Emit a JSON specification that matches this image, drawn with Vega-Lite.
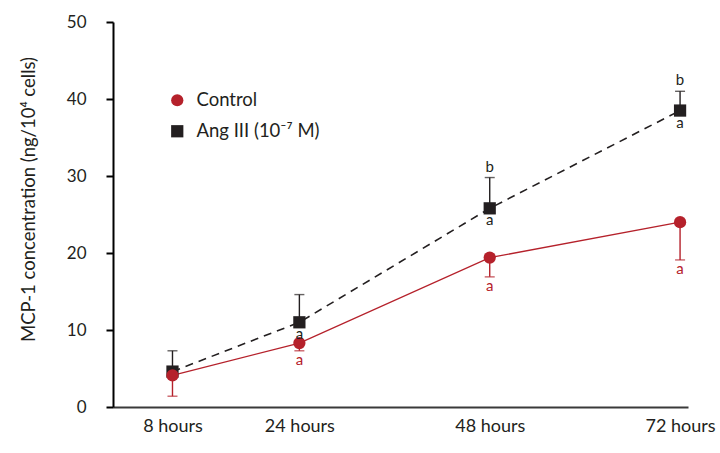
{
  "$schema": "https://vega.github.io/schema/vega-lite/v6.json",
  "width": 575,
  "height": 385,
  "autosize": {"type": "none"},
  "padding": {"left": 113, "top": 22, "right": 32, "bottom": 46},
  "background": "white",
  "config": {
    "font": "Lato",
    "view": {"stroke": null},
    "axis": {"grid": false, "labelFont": "Lato", "titleFont": "Lato", "labelColor": "#231f20", "titleColor": "#231f20"}
  },
  "data": {
    "values": [
      {"hours": 8, "series": "Control", "value": 4.1, "err": 1.4, "err_letter": "", "pt_letter": ""},
      {"hours": 24, "series": "Control", "value": 8.3, "err": 7.3, "err_letter": "a", "pt_letter": ""},
      {"hours": 48, "series": "Control", "value": 19.4, "err": 16.9, "err_letter": "a", "pt_letter": ""},
      {"hours": 72, "series": "Control", "value": 24.0, "err": 19.1, "err_letter": "a", "pt_letter": ""},
      {"hours": 8, "series": "Ang III (10⁻⁷ M)", "value": 4.6, "err": 7.3, "err_letter": "", "pt_letter": ""},
      {"hours": 24, "series": "Ang III (10⁻⁷ M)", "value": 11.0, "err": 14.6, "err_letter": "", "pt_letter": "a"},
      {"hours": 48, "series": "Ang III (10⁻⁷ M)", "value": 25.8, "err": 29.8, "err_letter": "b", "pt_letter": "a"},
      {"hours": 72, "series": "Ang III (10⁻⁷ M)", "value": 38.5, "err": 41.0, "err_letter": "b", "pt_letter": "a"}
    ]
  },
  "encoding": {
    "x": {
      "field": "hours", "type": "quantitative",
      "scale": {"domain": [0.5, 73], "nice": false, "zero": false},
      "axis": {
        "values": [8, 24, 48, 72],
        "labelExpr": "datum.value + ' hours'",
        "ticks": false,
        "domainColor": "#3a3a3a",
        "domainWidth": 2,
        "labelFontSize": 18,
        "labelPadding": 10,
        "labelFlush": false,
        "title": null
      }
    },
    "y": {
      "field": "value", "type": "quantitative",
      "scale": {"domain": [0, 50], "nice": false},
      "axis": {
        "values": [0, 10, 20, 30, 40, 50],
        "domainColor": "#000000",
        "domainWidth": 2,
        "tickColor": "#000000",
        "tickWidth": 2,
        "tickSize": 7,
        "labelFontSize": 17,
        "labelPadding": 20,
        "title": "MCP-1 concentration (ng/10⁴ cells)",
        "titleFontSize": 18.5,
        "titleFontWeight": "normal",
        "titleX": -85,
        "titleY": 177,
        "titleAngle": -90,
        "titleAlign": "center",
        "titleBaseline": "middle"
      }
    }
  },
  "layer": [
    {
      "transform": [{"filter": "datum.series != 'Control'"}],
      "mark": {"type": "line", "color": "#231f20", "strokeWidth": 1.6, "strokeDash": [8, 6]}
    },
    {
      "transform": [{"filter": "datum.series != 'Control'"}],
      "mark": {"type": "rule", "color": "#231f20", "strokeWidth": 1.4},
      "encoding": {"y2": {"field": "err"}}
    },
    {
      "transform": [{"filter": "datum.series != 'Control'"}],
      "mark": {"type": "tick", "orient": "horizontal", "color": "#231f20", "size": 10, "thickness": 1.4},
      "encoding": {"y": {"field": "err", "type": "quantitative"}}
    },
    {
      "transform": [{"filter": "datum.series == 'Control'"}],
      "mark": {"type": "line", "color": "#b5212b", "strokeWidth": 1.3}
    },
    {
      "transform": [{"filter": "datum.series == 'Control'"}],
      "mark": {"type": "rule", "color": "#b5212b", "strokeWidth": 1.4},
      "encoding": {"y2": {"field": "err"}}
    },
    {
      "transform": [{"filter": "datum.series == 'Control'"}],
      "mark": {"type": "tick", "orient": "horizontal", "color": "#b5212b", "size": 10, "thickness": 1.4},
      "encoding": {"y": {"field": "err", "type": "quantitative"}}
    },
    {
      "mark": {"type": "point", "filled": true, "opacity": 1, "size": 150},
      "encoding": {
        "color": {
          "field": "series", "type": "nominal",
          "scale": {"domain": ["Control", "Ang III (10⁻⁷ M)"], "range": ["#b5212b", "#231f20"]},
          "legend": {
            "orient": "none", "legendX": 55, "legendY": 69, "title": null,
            "labelFontSize": 18.5, "labelColor": "#231f20", "symbolSize": 150,
            "rowPadding": 12, "labelOffset": 10, "labelFont": "Lato"
          }
        },
        "shape": {
          "field": "series", "type": "nominal",
          "scale": {"domain": ["Control", "Ang III (10⁻⁷ M)"], "range": ["circle", "square"]},
          "legend": {
            "orient": "none", "legendX": 55, "legendY": 69, "title": null,
            "labelFontSize": 18.5, "labelColor": "#231f20", "symbolSize": 150,
            "rowPadding": 12, "labelOffset": 10, "labelFont": "Lato"
          }
        },
        "order": {"field": "series", "sort": "ascending"}
      }
    },
    {
      "transform": [{"filter": "datum.series != 'Control'"}],
      "mark": {"type": "text", "color": "#231f20", "fontSize": 15, "dy": -11, "baseline": "middle"},
      "encoding": {"y": {"field": "err", "type": "quantitative"}, "text": {"field": "err_letter"}}
    },
    {
      "transform": [{"filter": "datum.series != 'Control'"}],
      "mark": {"type": "text", "color": "#231f20", "fontSize": 15, "dy": 12, "baseline": "middle"},
      "encoding": {"text": {"field": "pt_letter"}}
    },
    {
      "transform": [{"filter": "datum.series == 'Control'"}],
      "mark": {"type": "text", "color": "#b5212b", "fontSize": 15, "dy": 9, "baseline": "middle"},
      "encoding": {"y": {"field": "err", "type": "quantitative"}, "text": {"field": "err_letter"}}
    }
  ]
}
